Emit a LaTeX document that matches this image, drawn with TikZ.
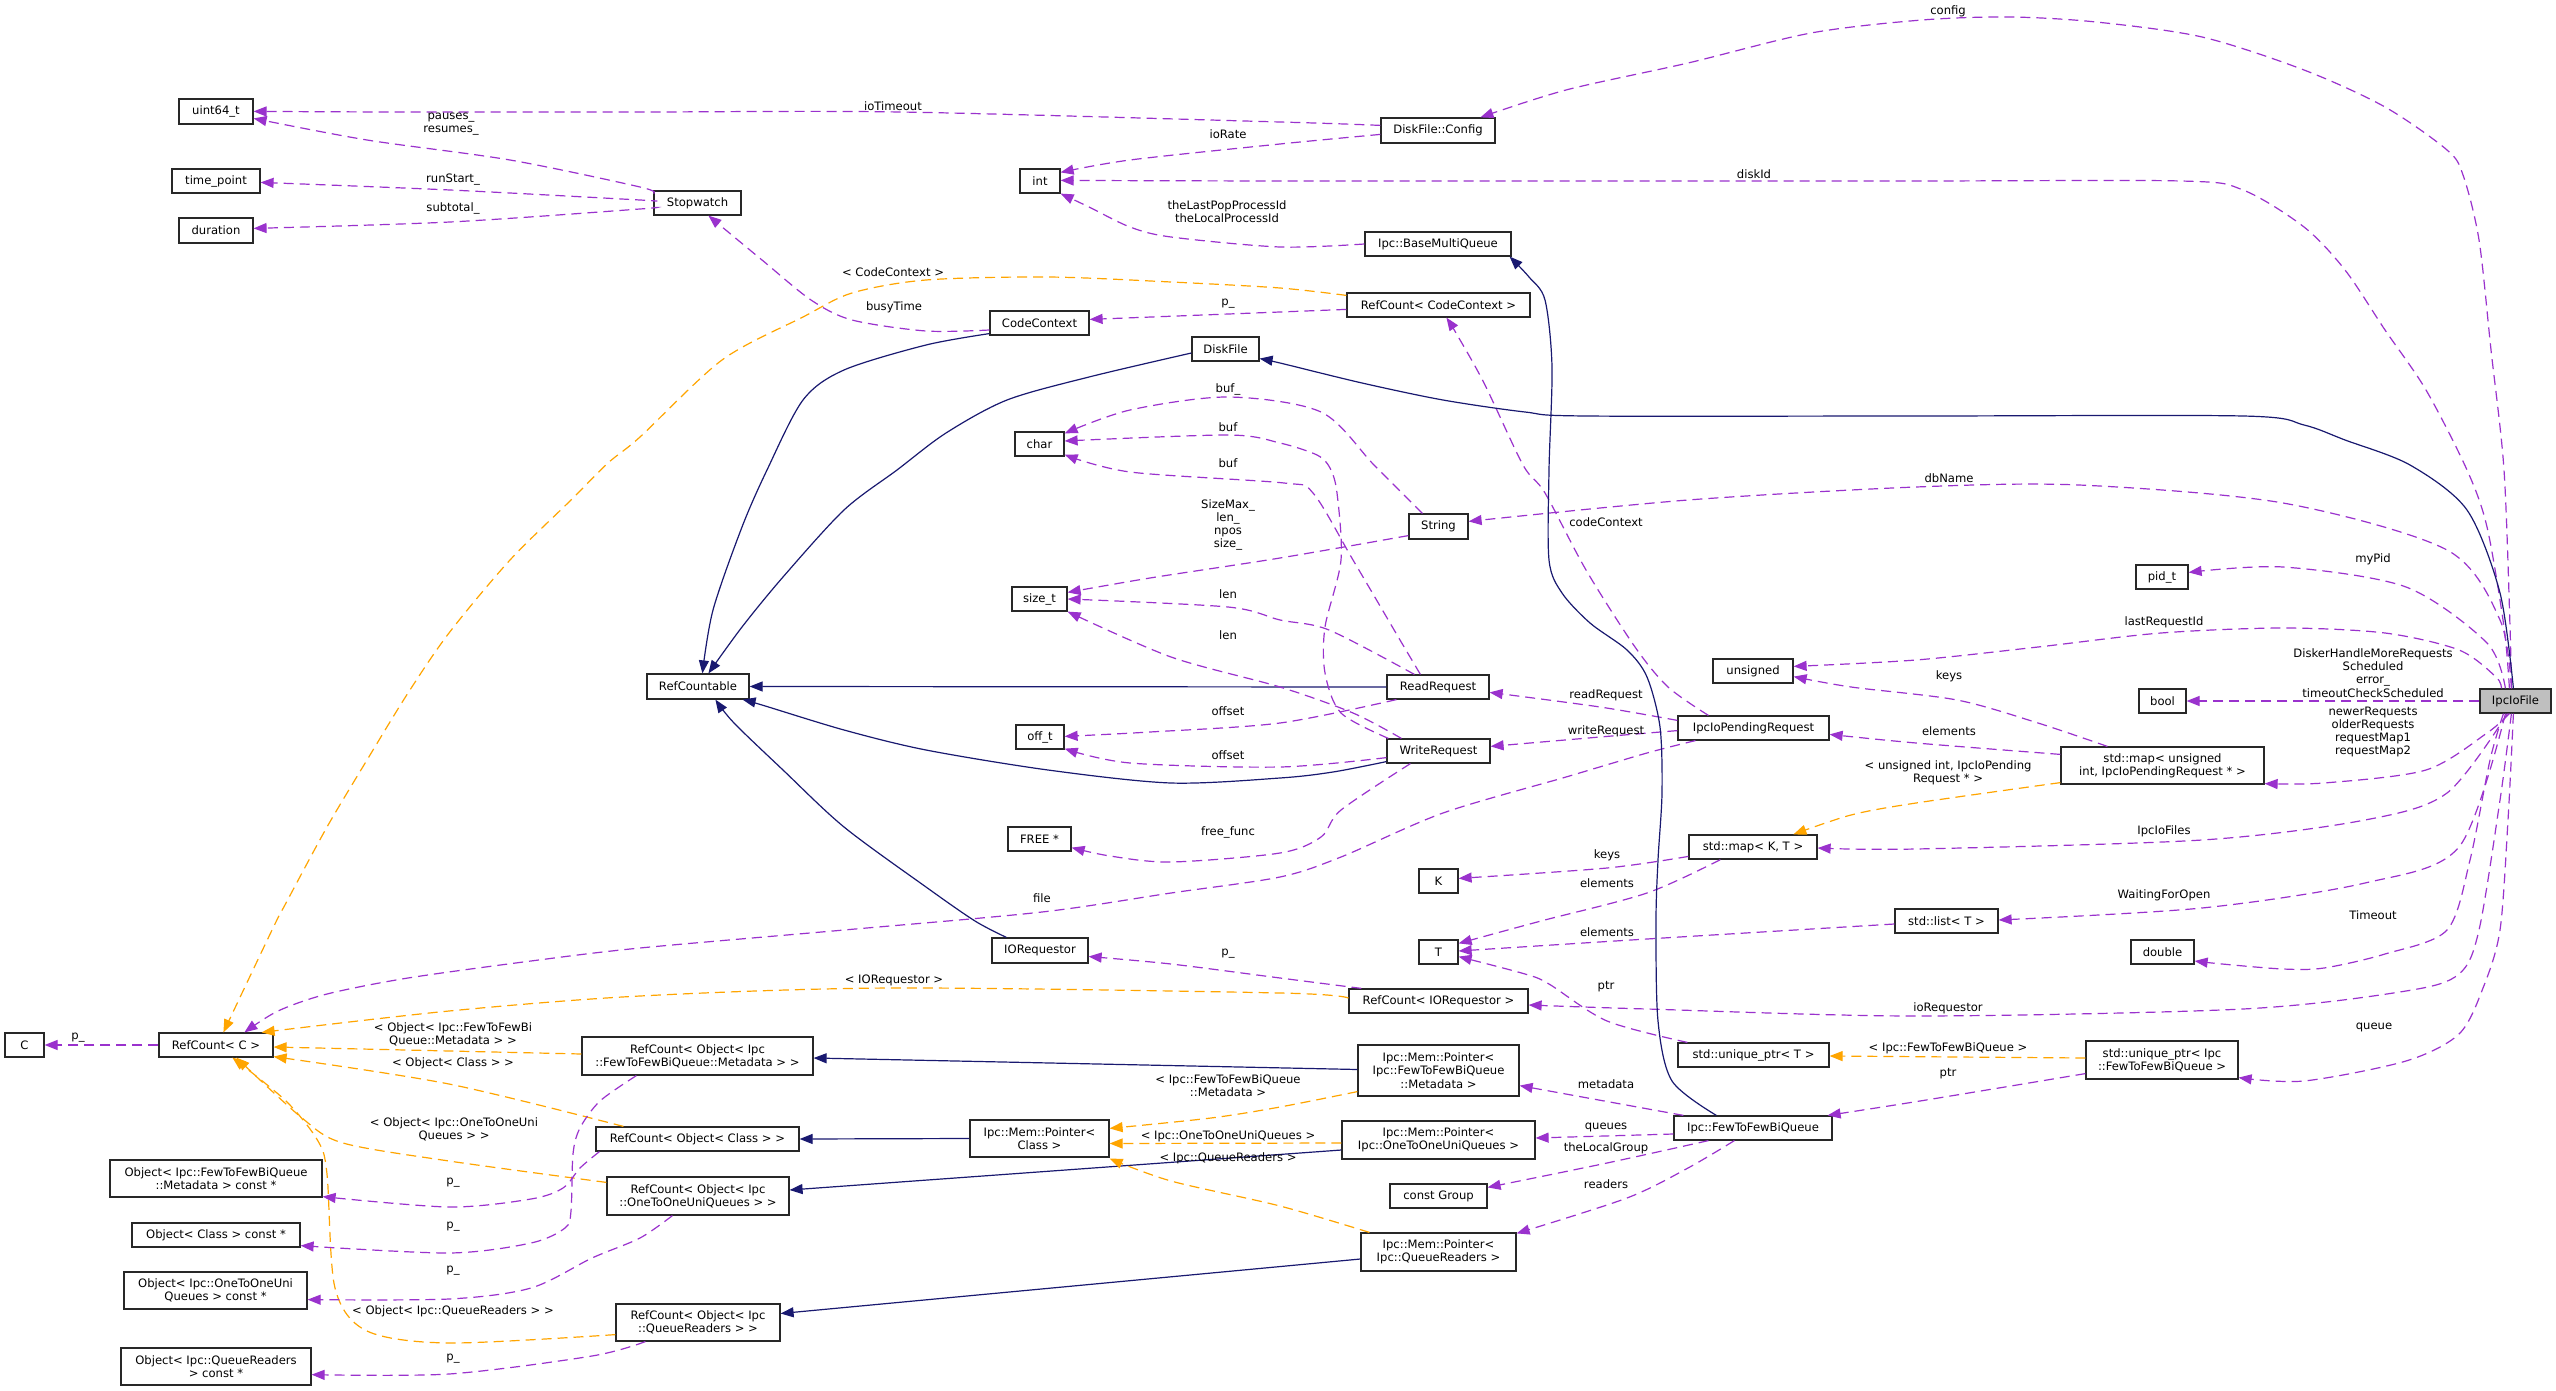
\documentclass[tikz,border=0pt]{standalone}
\usepackage{fontspec}
\setmainfont{DejaVu Sans}
\usetikzlibrary{arrows.meta,calc}
\definecolor{usecol}{RGB}{154,50,205}
\definecolor{inhcol}{RGB}{25,25,112}
\definecolor{tplcol}{RGB}{255,165,0}
\definecolor{boxcol}{RGB}{40,40,40}
\newcommand\bx[7][]{\node[box,#1,minimum width={#5-#3},minimum height={#6-#4}] (#2) at ({(#3+#5)/2},{(#4+#6)/2}) {#7};}
\newcommand\lb[4]{\node[lbl] (#1) at (#2,#3) {#4};}
\tikzset{
  box/.style={draw=boxcol, line width=1.2pt, fill=white, inner sep=0pt, align=center},
  lbl/.style={inner sep=0pt, align=center},
  use/.style={usecol, line width=1.2pt, dash pattern=on 10pt off 6pt, -{Triangle[length=13pt,width=10pt]}},
  inh/.style={inhcol, line width=1.2pt, -{Triangle[length=13pt,width=10pt]}},
  tpl/.style={tplcol, line width=1.2pt, dash pattern=on 10pt off 6pt, -{Triangle[length=13pt,width=10pt]}},
}
\begin{document}
\begin{tikzpicture}[x=1pt,y=-1pt,font=\fontsize{11.6}{13.3}\selectfont]
\useasboundingbox (0,0) rectangle (2556,1391);
\fill[white] (0,0) rectangle (2556,1391);
% ---------- nodes ----------
\bx{uint}{179}{99}{253}{124}{uint64\_t}
\bx{tp}{172}{169}{260}{193}{time\_point}
\bx{dur}{179}{218}{253}{243}{duration}
\bx{sw}{654}{191}{741}{215}{Stopwatch}
\bx{int}{1020}{169}{1060}{193}{int}
\bx{cfg}{1381}{118}{1495}{143}{DiskFile::Config}
\bx{bmq}{1365}{232}{1511}{256}{Ipc::BaseMultiQueue}
\bx{cc}{990}{311}{1089}{335}{CodeContext}
\bx{rccc}{1347}{293}{1530}{317}{RefCount< CodeContext >}
\bx{df}{1192}{337}{1259}{361}{DiskFile}
\bx{chr}{1015}{432}{1064}{456}{char}
\bx{str}{1409}{514}{1468}{539}{String}
\bx{sz}{1012}{587}{1067}{611}{size\_t}
\bx{rcable}{647}{674}{749}{699}{RefCountable}
\bx{pid}{2136}{565}{2188}{589}{pid\_t}
\bx{uns}{1713}{659}{1793}{683}{unsigned}
\bx{rr}{1387}{675}{1489}{699}{ReadRequest}
\bx{ipr}{1678}{716}{1829}{740}{IpcIoPendingRequest}
\bx{wr}{1387}{739}{1490}{763}{WriteRequest}
\bx{offt}{1016}{725}{1064}{749}{off\_t}
\bx{bool}{2139}{689}{2186}{713}{bool}
\bx[fill={rgb,255:red,191;green,191;blue,191}]{ipc}{2480}{689}{2551}{713}{IpcIoFile}
\bx{mapu}{2061}{747}{2264}{784}{std::map< unsigned\\ int, IpcIoPendingRequest * >}
\bx{free}{1008}{827}{1071}{851}{FREE *}
\bx{mapkt}{1689}{835}{1817}{859}{std::map< K, T >}
\bx{K}{1419}{869}{1458}{893}{K}
\bx{list}{1895}{909}{1998}{933}{std::list< T >}
\bx{T}{1419}{940}{1458}{964}{T}
\bx{dbl}{2131}{940}{2194}{964}{double}
\bx{ioreq}{992}{938}{1088}{963}{IORequestor}
\bx{rcio}{1349}{989}{1528}{1013}{RefCount< IORequestor >}
\bx{C}{5}{1033}{44}{1057}{C}
\bx{rcc}{159}{1033}{273}{1057}{RefCount< C >}
\bx{rcmeta}{582}{1037}{813}{1075}{RefCount< Object< Ipc\\::FewToFewBiQueue::Metadata > >}
\bx{uptrt}{1678}{1043}{1829}{1067}{std::unique\_ptr< T >}
\bx{uptrq}{2086}{1041}{2238}{1079}{std::unique\_ptr< Ipc\\::FewToFewBiQueue >}
\bx{pmeta}{1358}{1045}{1519}{1096}{Ipc::Mem::Pointer<\\ Ipc::FewToFewBiQueue\\::Metadata >}
\bx{pcls}{970}{1120}{1109}{1157}{Ipc::Mem::Pointer<\\Class >}
\bx{rccls}{596}{1127}{799}{1151}{RefCount< Object< Class > >}
\bx{poto}{1342}{1121}{1535}{1159}{Ipc::Mem::Pointer<\\ Ipc::OneToOneUniQueues >}
\bx{ff}{1674}{1116}{1832}{1140}{Ipc::FewToFewBiQueue}
\bx{ometa}{110}{1160}{322}{1197}{Object< Ipc::FewToFewBiQueue\\::Metadata > const *}
\bx{rcoto}{607}{1177}{789}{1215}{RefCount< Object< Ipc\\::OneToOneUniQueues > >}
\bx{grp}{1390}{1184}{1487}{1208}{const Group}
\bx{ocls}{132}{1223}{300}{1247}{Object< Class > const *}
\bx{pqr}{1361}{1233}{1516}{1271}{Ipc::Mem::Pointer<\\ Ipc::QueueReaders >}
\bx{ooto}{124}{1272}{307}{1309}{Object< Ipc::OneToOneUni\\Queues > const *}
\bx{rcqr}{616}{1304}{780}{1341}{RefCount< Object< Ipc\\::QueueReaders > >}
\bx{oqr}{121}{1348}{311}{1385}{Object< Ipc::QueueReaders\\> const *}
% ---------- edges ----------
\draw[use] plot[smooth] coordinates {($(cfg.north west)+(0,8)$) (1280,122) (900,112) (640,112) (400,112) ($(uint.north east)+(0,13)$)};
\draw[use] plot[smooth] coordinates {($(cfg.north west)+(0,17)$) (1280,144) (1130,160) ($(int.north east)+(0,4)$)};
\draw[use] plot[smooth] coordinates {($(ipc.north west)+(32,0)$) (2510,627) (2504,470) (2491,350) (2479,240) (2463,175) (2447,150) (2385,107) (2304,70) (2202,37) (2096,22) (2010,17) (1922,20) (1811,33) (1688,63) (1566,90) ($(cfg.north west)+(100,0)$)};
\draw[use] plot[smooth] coordinates {($(sw.north west)+(0,3)$) (640,187) (510,160) (367,140) ($(uint.north east)+(0,20)$)};
\draw[use] plot[smooth] coordinates {($(sw.west)+(0,-2)$) (640,200) (450,190) ($(tp.north east)+(0,14)$)};
\draw[use] plot[smooth] coordinates {($(sw.north west)+(0,17)$) (640,209) (450,222) ($(dur.north east)+(0,11)$)};
\draw[use] plot[smooth] coordinates {($(ipc.north west)+(30,0)$) (2504,627) (2487,527) (2467,470) (2426,390) (2385,330) (2345,270) (2304,227) (2243,190) (2181,181) (1900,181) (1300,181) ($(int.north east)+(0,12)$)};
\draw[use] plot[smooth] coordinates {(bmq.west) (1280,247) (1171,237) (1130,227) (1089,207) (int.south east)};
\draw[use] plot[smooth] coordinates {($(cc.west)+(0,7)$) (926,331) (852,320) (811,300) (762,260) ($(sw.south west)+(55,0)$)};
\draw[use] plot[smooth] coordinates {($(rccc.north west)+(0,17)$) (1280,312) ($(cc.north east)+(0,9)$)};
\draw[tpl] plot[smooth] coordinates {($(rccc.north west)+(0,3)$) (1280,288) (1171,282) (1048,277) (926,280) (852,293) (803,317) (722,360) (640,437) (608,463) (571,500) (510,560) (449,633) (408,693) (367,760) (327,827) (286,903) (273,928) ($(rcc.north west)+(65,0)$)};
\draw[use] plot[smooth] coordinates {($(ipr.north west)+(31,0)$) (1668,687) (1635,647) (1586,570) (1545,493) (1523,465) (1484,383) (1456,333) ($(rccc.south west)+(100,0)$)};
\draw[inh] plot[smooth] coordinates {($(df.west)+(0,4)$) (1089,377) (1007,400) (946,433) (897,470) (844,510) (783,577) (742,627) ($(rcable.north west)+(62,0)$)};
\draw[inh] plot[smooth] coordinates {($(cc.south west)+(0,-2)$) (926,345) (844,370) (803,400) (767,470) (742,527) (713,610) ($(rcable.north west)+(56,0)$)};
\draw[inh] plot[smooth] coordinates {($(ipc.north west)+(34,0)$) (2500,593) (2467,510) (2410,465) (2345,440) (2304,425) (2243,416) (1920,416) (1586,416) (1525,412) (1443,400) (1362,383) (1280,363) ($(df.south east)+(0,-3)$)};
\draw[inh] (rr.west) -- (rcable.east);
\draw[inh] plot[smooth] coordinates {($(wr.south west)+(0,-2)$) (1333,772) (1280,778) (1171,783) (1048,770) (926,750) (844,730) (762,705) ($(rcable.south east)+(-7,0)$)};
\draw[inh] plot[smooth] coordinates {($(ioreq.north west)+(15,0)$) (975,921) (926,887) (844,827) (783,770) (734,723) ($(rcable.south west)+(69,0)$)};
\draw[use] plot[smooth] coordinates {($(str.north west)+(14,0)$) (1374,465) (1321,412) (1228,397) (1130,410) ($(chr.north east)+(0,2)$)};
\draw[use] plot[smooth] coordinates {($(wr.north west)+(2,0)$) (1341,713) (1325,673) (1325,627) (1341,560) (1337,493) (1330,468) (1317,455) (1280,443) (1228,435) ($(chr.east)+(0,-3)$)};
\draw[use] plot[smooth] coordinates {($(rr.north west)+(34,0)$) (1400,640) (1353,560) (1313,493) (1284,483) (1130,472) ($(chr.south east)+(0,-2)$)};
\draw[use] plot[smooth] coordinates {($(str.south west)+(0,-4)$) (1280,558) (1150,578) ($(sz.north east)+(0,6)$)};
\draw[use] plot[smooth] coordinates {($(rr.north west)+(28,0)$) (1329,630) (1280,620) (1228,607) (sz.east)};
\draw[use] plot[smooth] coordinates {($(wr.north west)+(15,0)$) (1353,713) (1280,687) (1171,657) (sz.south east)};
\draw[use] plot[smooth] coordinates {($(rr.south west)+(10,0)$) (1280,723) (1150,732) ($(offt.north east)+(0,12)$)};
\draw[use] plot[smooth] coordinates {($(wr.south west)+(0,-6)$) (1280,767) (1130,763) ($(offt.south east)+(0,-1)$)};
\draw[use] plot[smooth] coordinates {($(wr.south west)+(24,0)$) (1341,810) (1321,837) (1280,853) (1171,862) (1110,856) ($(free.south east)+(0,-4)$)};
\draw[use] plot[smooth] coordinates {($(ipr.south west)+(18,0)$) (1647,753) (1566,777) (1443,813) (1341,857) (1280,877) (1171,893) (1042,912) (844,930) (640,948) (531,961) (408,978) (327,994) (278,1011) ($(rcc.north west)+(86,0)$)};
\draw[use] plot[smooth] coordinates {($(ipr.north west)+(0,5)$) (1600,707) ($(rr.north east)+(0,18)$)};
\draw[use] plot[smooth] coordinates {($(ipr.south west)+(0,-10)$) (1600,737) ($(wr.north east)+(0,8)$)};
\draw[use] plot[smooth] coordinates {($(ipc.north west)+(32,0)$) (2500,620) (2447,550) (2283,503) (2079,485) (1916,487) (1688,500) ($(str.north east)+(0,8)$)};
\draw[use] plot[smooth] coordinates {($(ipc.north west)+(26,0)$) (2487,643) (2406,587) (2283,567) ($(pid.north east)+(0,8)$)};
\draw[use] plot[smooth] coordinates {($(ipc.north west)+(22,0)$) (2496,677) (2459,650) (2385,633) (2283,628) (2161,633) (2038,647) (1916,660) ($(uns.north east)+(0,8)$)};
\draw[use] plot[smooth] coordinates {($(mapu.north west)+(47,0)$) (2038,723) (1957,700) (1851,687) ($(uns.south east)+(0,-7)$)};
\draw[use] (ipc.west) -- (bool.east);
\draw[use] plot[smooth] coordinates {($(ipc.south west)+(30,0)$) (2487,733) (2426,770) (2324,783) ($(mapu.south east)+(0,-1)$)};
\draw[use] plot[smooth] coordinates {($(mapu.north west)+(0,8)$) (1916,743) ($(ipr.north east)+(0,19)$)};
\draw[tpl] plot[smooth] coordinates {($(mapu.south west)+(0,-2)$) (1916,803) (1851,815) ($(mapkt.north west)+(105,0)$)};
\draw[use] plot[smooth] coordinates {($(ipc.south west)+(28,0)$) (2447,793) (2365,820) (2202,840) (1916,849) ($(mapkt.east)+(0,1)$)};
\draw[use] plot[smooth] coordinates {($(mapkt.north west)+(0,22)$) (1607,868) ($(K.north east)+(0,10)$)};
\draw[use] plot[smooth] coordinates {($(mapkt.south west)+(32,0)$) (1647,893) (1541,921) ($(T.north east)+(0,4)$)};
\draw[use] plot[smooth] coordinates {($(list.west)+(0,3)$) (1647,939) ($(T.east)+(0,-1)$)};
\draw[use] plot[smooth] coordinates {($(ipc.south west)+(26,0)$) (2459,847) (2365,883) (2202,908) ($(list.east)+(0,-1)$)};
\draw[use] plot[smooth] coordinates {($(ipc.south west)+(24,0)$) (2490,760) (2470,860) (2447,930) (2385,954) (2324,968) (2283,969) (2222,964) ($(dbl.east)+(0,9)$)};
\draw[use] plot[smooth] coordinates {($(ipc.south west)+(32,0)$) (2500,800) (2479,930) (2459,974) (2406,991) (2243,1009) (1916,1016) (1647,1009) ($(rcio.east)+(0,4)$)};
\draw[use] plot[smooth] coordinates {($(ipc.south west)+(34,0)$) (2508,820) (2500,930) (2483,988) (2459,1034) (2406,1061) (2304,1081) ($(uptrq.south east)+(0,-2)$)};
\draw[tpl] ($(uptrq.west)+(0,-2)$) -- ($(uptrt.east)+(0,1)$);
\draw[use] plot[smooth] coordinates {($(uptrq.south west)+(0,-6)$) (1920,1101) ($(ff.north east)+(-5,0)$)};
\draw[use] plot[smooth] coordinates {($(uptrt.north west)+(10,0)$) (1607,1021) (1549,984) (1525,974) ($(T.south east)+(0,-8)$)};
\draw[use] plot[smooth] coordinates {($(rcio.north west)+(13,0)$) (1280,978) (1171,964) ($(ioreq.east)+(0,6)$)};
\draw[tpl] plot[smooth] coordinates {($(rcio.west)+(0,-3)$) (1280,993) (893,988) (640,996) (449,1011) ($(rcc.north east)+(-12,0)$)};
\draw[use] (rcc.west) -- (C.east);
\draw[tpl] ($(rcmeta.west)+(0,-2)$) -- ($(rcc.east)+(0,2)$);
\draw[tpl] plot[smooth] coordinates {($(rccls.north west)+(28,0)$) (449,1084) ($(rcc.south east)+(0,-1)$)};
\draw[tpl] plot[smooth] coordinates {($(rcoto.north west)+(0,6)$) (449,1161) (343,1143) (302,1118) ($(rcc.south west)+(78,0)$)};
\draw[tpl] plot[smooth] coordinates {($(rcqr.south west)+(0,-7)$) (449,1343) (367,1331) (335,1288) (327,1174) (318,1141) (286,1101) ($(rcc.south west)+(74,0)$)};
\draw[use] plot[smooth] coordinates {($(rcmeta.south west)+(55,0)$) (600,1101) (580,1128) (573,1154) (571,1211) (565,1228) (531,1243) (449,1253) ($(ocls.south east)+(0,-2)$)};
\draw[use] plot[smooth] coordinates {($(rccls.south west)+(4,0)$) (580,1168) (563,1188) (531,1199) (449,1207) ($(ometa.south east)+(0,-1)$)};
\draw[use] plot[smooth] coordinates {($(rcoto.south west)+(66,0)$) (640,1238) (592,1258) (531,1288) (449,1299) ($(ooto.south east)+(0,-10)$)};
\draw[use] plot[smooth] coordinates {($(rcqr.south west)+(30,0)$) (592,1356) (449,1374) ($(oqr.south east)+(0,-11)$)};
\draw[inh] ($(pmeta.west)+(0,-1)$) -- ($(rcmeta.east)+(0,2)$);
\draw[inh] (pcls.west) -- (rccls.east);
\draw[inh] ($(poto.west)+(0,10)$) -- ($(rcoto.east)+(0,-6)$);
\draw[inh] ($(pqr.west)+(0,7)$) -- ($(rcqr.east)+(0,-9)$);
\draw[tpl] plot[smooth] coordinates {($(pmeta.south west)+(0,-5)$) (1280,1107) (1211,1118) ($(pcls.north east)+(0,9)$)};
\draw[tpl] ($(poto.west)+(0,3)$) -- ($(pcls.east)+(0,5)$);
\draw[tpl] plot[smooth] coordinates {($(pqr.north west)+(9,0)$) (1280,1206) (1171,1181) ($(pcls.south east)+(0,1)$)};
\draw[use] ($(ff.north west)+(10,0)$) -- ($(pmeta.south east)+(0,-11)$);
\draw[use] ($(ff.west)+(0,6)$) -- ($(poto.east)+(0,-2)$);
\draw[use] plot[smooth] coordinates {($(ff.south west)+(35,0)$) (1607,1163) ($(grp.north east)+(0,4)$)};
\draw[use] plot[smooth] coordinates {($(ff.south west)+(61,0)$) (1688,1168) (1627,1198) ($(pqr.north east)+(0,1)$)};
\draw[inh] plot[smooth] coordinates {($(ff.north west)+(43,0)$) (1672,1081) (1658,1021) (1656,921) (1658,860) (1662,793) (1660,727) (1647,677) (1627,650) (1590,623) (1562,593) (1549,560) (1549,470) (1552,367) (1545,300) (1529,277) ($(bmq.south east)+(-2,0)$)};
% ---------- labels ----------
\lb{l1}{1948}{11}{config}
\lb{l2}{893}{106}{ioTimeout}
\lb{l3}{1228}{134}{ioRate}
\lb{l4}{451}{124}{pauses\_\\resumes\_}
\lb{l5}{453}{180}{runStart\_}
\lb{l6}{453}{208}{subtotal\_}
\lb{l7}{1754}{174}{diskId}
\lb{l8}{1227}{212}{theLastPopProcessId\\theLocalProcessId}
\lb{l9}{893}{272}{< CodeContext >}
\lb{l10}{894}{307}{busyTime}
\lb{l11}{1228}{304}{p\_}
\lb{l12}{1228}{389}{buf\_}
\lb{l13}{1228}{427}{buf}
\lb{l14}{1228}{463}{buf}
\lb{l15}{1949}{478}{dbName}
\lb{l16}{1228}{525}{SizeMax\_\\len\_\\npos\\size\_}
\lb{l17}{1606}{522}{codeContext}
\lb{l18}{2373}{559}{myPid}
\lb{l19}{1228}{594}{len}
\lb{l20}{2164}{622}{lastRequestId}
\lb{l21}{1228}{635}{len}
\lb{l22}{2373}{673}{DiskerHandleMoreRequests\\Scheduled\\error\_\\timeoutCheckScheduled}
\lb{l23}{1949}{676}{keys}
\lb{l24}{1606}{695}{readRequest}
\lb{l25}{1228}{711}{offset}
\lb{l26}{2373}{732}{newerRequests\\olderRequests\\requestMap1\\requestMap2}
\lb{l27}{1949}{731}{elements}
\lb{l28}{1606}{731}{writeRequest}
\lb{l29}{1228}{755}{offset}
\lb{l30}{1948}{773}{< unsigned int, IpcIoPending\\Request * >}
\lb{l31}{2164}{831}{IpcIoFiles}
\lb{l32}{1228}{832}{free\_func}
\lb{l33}{1607}{855}{keys}
\lb{l34}{1607}{883}{elements}
\lb{l35}{2164}{895}{WaitingForOpen}
\lb{l36}{1042}{898}{file}
\lb{l37}{2373}{915}{Timeout}
\lb{l38}{1607}{932}{elements}
\lb{l39}{1228}{954}{p\_}
\lb{l40}{894}{980}{< IORequestor >}
\lb{l41}{1606}{987}{ptr}
\lb{l42}{1948}{1008}{ioRequestor}
\lb{l43}{2374}{1027}{queue}
\lb{l44}{453}{1034}{< Object< Ipc::FewToFewBi\\Queue::Metadata > >}
\lb{l45}{78}{1038}{p\_}
\lb{l46}{1948}{1048}{< Ipc::FewToFewBiQueue >}
\lb{l47}{453}{1063}{< Object< Class > >}
\lb{l48}{1948}{1074}{ptr}
\lb{l49}{1228}{1086}{< Ipc::FewToFewBiQueue\\::Metadata >}
\lb{l50}{1606}{1084}{metadata}
\lb{l51}{454}{1129}{< Object< Ipc::OneToOneUni\\Queues > >}
\lb{l52}{1606}{1127}{queues}
\lb{l53}{1228}{1136}{< Ipc::OneToOneUniQueues >}
\lb{l54}{1606}{1148}{theLocalGroup}
\lb{l55}{1228}{1158}{< Ipc::QueueReaders >}
\lb{l56}{453}{1183}{p\_}
\lb{l57}{1606}{1184}{readers}
\lb{l58}{453}{1227}{p\_}
\lb{l59}{453}{1271}{p\_}
\lb{l60}{453}{1311}{< Object< Ipc::QueueReaders > >}
\lb{l61}{453}{1359}{p\_}
\end{tikzpicture}
\end{document}
